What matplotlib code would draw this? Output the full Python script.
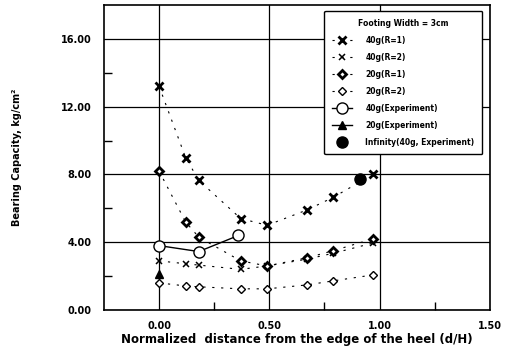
import matplotlib
matplotlib.use("Agg")
import matplotlib.pyplot as plt
from matplotlib.ticker import FixedLocator

# ---- data ----
x_model = [0.0, 0.12, 0.18, 0.37, 0.49, 0.67, 0.79, 0.97]
y_40g_r1 = [13.2, 9.0, 7.65, 5.4, 5.0, 5.9, 6.65, 8.0]
y_40g_r2 = [2.9, 2.73, 2.65, 2.4, 2.6, 3.0, 3.35, 3.95]
y_20g_r1 = [8.2, 5.2, 4.3, 2.9, 2.6, 3.08, 3.5, 4.2]
y_20g_r2 = [1.6, 1.42, 1.37, 1.25, 1.25, 1.48, 1.72, 2.07]
x_exp40 = [0.0, 0.18, 0.36]
y_exp40 = [3.8, 3.45, 4.4]
x_exp20 = [0.0]
y_exp20 = [2.15]
x_inf = [0.91]
y_inf = [7.75]

labels = ["40g(R=1)", "40g(R=2)", "20g(R=1)", "20g(R=2)",
          "40g(Experiment)", "20g(Experiment)", "Infinity(40g, Experiment)"]
xticks = [0.0, 0.5, 1.0, 1.5]
yticks = [0, 4, 8, 12, 16]
xlabel = "Normalized  distance from the edge of the heel (d/H)"
ylabel = "Bearing Capacity, kg/cm\u00b2"
legend_title = "Footing Width = 3cm"

plt.rcParams['font.family'] = ['DejaVu Sans']
plt.rcParams['font.weight'] = 'bold'

fig = plt.figure(figsize=(5.06, 3.47), dpi=100)
ax = fig.add_axes([0.2055, 0.1066, 0.7625, 0.879])

dot = (0, (2, 6))
ax.plot(x_model, y_40g_r1, linestyle=dot, color='k', lw=0.8, marker='x',
        ms=6, mew=2.0, label=labels[0])
ax.plot(x_model, y_40g_r2, linestyle=dot, color='k', lw=0.8, marker='x',
        ms=5, mew=1.1, label=labels[1])
ax.plot(x_model, y_20g_r1, linestyle=dot, color='k', lw=0.8, marker='D',
        ms=4.5, mew=2.0, mfc='white', label=labels[2])
ax.plot(x_model, y_20g_r2, linestyle=dot, color='k', lw=0.8, marker='D',
        ms=4.5, mew=1.0, mfc='white', label=labels[3])
ax.plot(x_exp40, y_exp40, linestyle='-', color='k', lw=1.0, marker='o',
        ms=8, mew=1.0, mfc='white', label=labels[4])
ax.plot(x_exp20, y_exp20, linestyle='-', color='k', lw=1.0, marker='^',
        ms=6, mfc='k', label=labels[5])
ax.plot(x_inf, y_inf, linestyle='none', color='k', marker='o',
        ms=8, mfc='k', label=labels[6])

ax.set_xlim(-0.25, 1.5)
ax.set_ylim(0, 18)
ax.set_xticks(xticks)
ax.set_xticklabels([f"{v:.2f}" for v in xticks])
ax.set_yticks(yticks)
ax.set_yticklabels([f"{v:.2f}" for v in yticks])
ax.xaxis.set_minor_locator(FixedLocator([0.25, 0.75, 1.25]))
ax.yaxis.set_minor_locator(FixedLocator([2, 6, 10, 14]))
ax.tick_params(which='major', length=0, pad=8, labelsize=7)
ax.tick_params(axis='y', which='major', pad=9)
ax.tick_params(which='minor', direction='in', length=6, width=1, color='k')
ax.grid(True, which='major', color='k', lw=0.9)
for s in ax.spines.values():
    s.set_linewidth(1.2)

ax.set_xlabel(xlabel, fontsize=8.5, fontweight='bold', labelpad=1)
ax.set_ylabel(ylabel, fontsize=7, fontweight='bold', labelpad=28)

leg = ax.legend(loc='upper right', bbox_to_anchor=(0.99, 0.993), title=legend_title,
                fontsize=5.5, title_fontsize=5.5, frameon=True, fancybox=True,
                edgecolor='k', framealpha=1, handlelength=2.6, labelspacing=1.05,
                borderpad=1.0, handletextpad=1.8)
leg.get_title().set_fontweight('bold')
leg.get_frame().set_linewidth(1.0)

fig.savefig("out.png", dpi=100)
